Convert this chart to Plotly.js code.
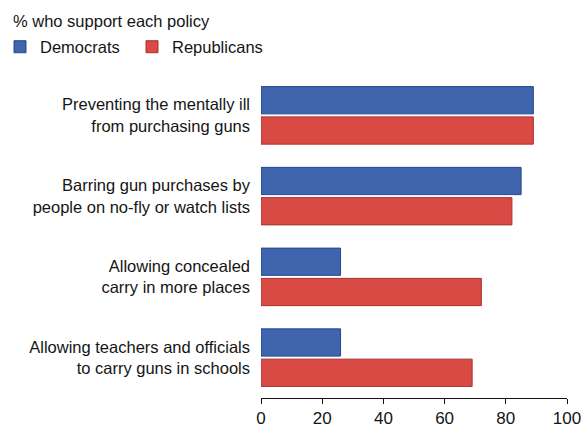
<!DOCTYPE html>
<html>
<head>
<meta charset="utf-8">
<script src="https://cdn.plot.ly/plotly-3.0.1.min.js"></script>
<style>html,body{margin:0;padding:0;background:#fff;}#chart{width:587px;height:428px;}</style>
</head>
<body>
<div id="chart"></div>
<script>
const policies = [
  "Preventing the mentally ill<br>from purchasing guns",
  "Barring gun purchases by<br>people on no-fly or watch lists",
  "Allowing concealed<br>carry in more places",
  "Allowing teachers and officials<br>to carry guns in schools"
];
const democrats = [89, 85, 26, 26];
const republicans = [89, 82, 72, 69];
const xTicks = [0, 20, 40, 60, 80, 100];

const FONT = "Liberation Sans, Arial, Helvetica, sans-serif";

const traces = [
  {
    type: "bar", orientation: "h", name: "Democrats",
    y: policies, x: democrats,
    marker: {color: "#3f65ae", line: {color: "#27468a", width: 1}},
    hoverinfo: "skip"
  },
  {
    type: "bar", orientation: "h", name: "Republicans",
    y: policies, x: republicans,
    marker: {color: "#d94a45", line: {color: "#a8302c", width: 1}},
    hoverinfo: "skip"
  }
];

const layout = {
  width: 587, height: 428,
  paper_bgcolor: "#ffffff", plot_bgcolor: "#ffffff",
  font: {family: FONT, size: 16, color: "#151515"},
  margin: {l: 261, r: 20, t: 75, b: 30, pad: 0},
  barmode: "group",
  bargap: 0.25,
  bargroupgap: 0.1,
  title: {
    text: "% who support each policy",
    font: {family: FONT, size: 16.5, color: "#151515"},
    xref: "container", yref: "container",
    x: 13/587, xanchor: "left",
    y: 1 - 21/428, yanchor: "middle"
  },
  showlegend: true,
  legend: {
    orientation: "h",
    xref: "container", yref: "container",
    x: 0, xanchor: "left",
    y: 1 - 47/428, yanchor: "middle",
    font: {family: FONT, size: 16.5, color: "#151515"},
    bgcolor: "rgba(0,0,0,0)",
    traceorder: "normal",
    entrywidth: 87, entrywidthmode: "pixels"
  },
  xaxis: {
    range: [0, 100],
    tickvals: xTicks,
    ticktext: xTicks.map(String),
    showgrid: false, zeroline: false,
    showline: true, linecolor: "#111", linewidth: 1,
    ticks: "outside", ticklen: 5, tickcolor: "#111", tickwidth: 1,
    tickfont: {family: FONT, size: 17, color: "#151515"},
    fixedrange: true
  },
  yaxis: {
    type: "category",
    autorange: "reversed",
    showgrid: false, zeroline: false, showline: false,
    ticks: "", ticklabelstandoff: 10,
    tickfont: {family: FONT, size: 16.5, color: "#151515"},
    fixedrange: true
  }
};

Plotly.newPlot("chart", traces, layout, {displayModeBar: false, staticPlot: true});
</script>
</body>
</html>
